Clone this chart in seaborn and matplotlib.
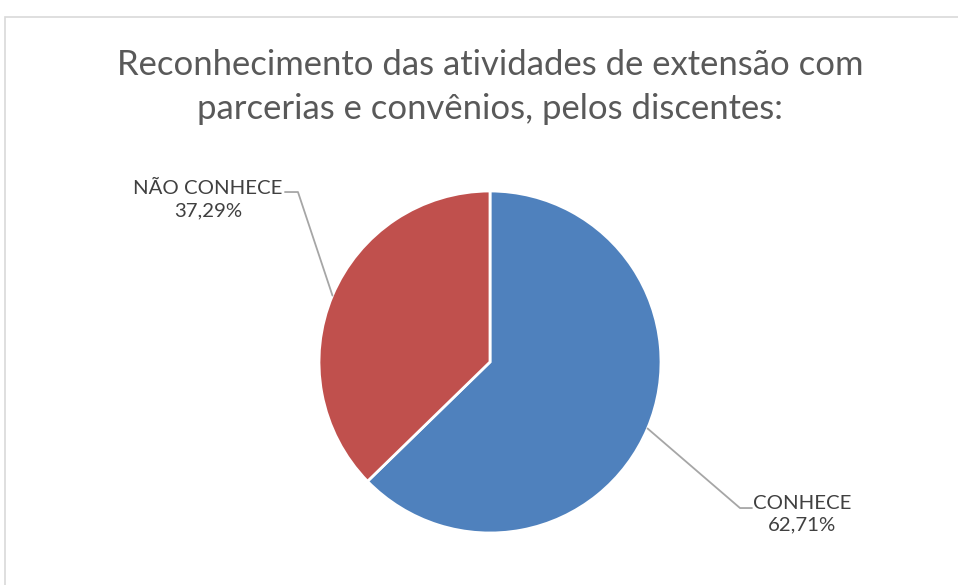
import numpy as np
import matplotlib
matplotlib.use("Agg")
import matplotlib.pyplot as plt
import seaborn as sns
from matplotlib.patches import Rectangle

# ==========================
# Dados
# ==========================
categorias = ["CONHECE", "NÃO CONHECE"]
percentuais = [62.71, 37.29]
rotulos_pct = ["62,71%", "37,29%"]
cores = ["#4F81BD", "#C0504D"]
titulo = "Reconhecimento das atividades de extensão com\nparcerias e convênios, pelos discentes:"

sns.set_theme(style="white")
plt.rcParams["font.family"] = ["Lato", "DejaVu Sans"]

W, H = 958, 585
fig = plt.figure(figsize=(W / 100, H / 100), dpi=100)

# moldura do gráfico
fig.patches.append(Rectangle((5 / W, -0.1), 1.2, (H - 17) / H + 0.1,
                             transform=fig.transFigure, fill=False,
                             edgecolor="#d9d9d9", linewidth=1.2))

# eixo posicionado sobre a área da pizza (centro 490,362 raio 171 px)
cx, cy, r = 490, 362, 171
ax = fig.add_axes([(cx - r) / W, (H - cy - r) / H, 2 * r / W, 2 * r / H])
wedges, _ = ax.pie(percentuais, colors=cores, startangle=90, counterclock=False,
                   wedgeprops=dict(edgecolor="white", linewidth=2))
ax.set_xlim(-1, 1)
ax.set_ylim(-1, 1)
ax.set_aspect("equal")
ax.axis("off")

# rótulos com linhas de chamada
cfg = {
    "CONHECE": dict(elbow=(1.462, -0.854), end=(1.532, -0.854), txt=(1.825, -0.89)),
    "NÃO CONHECE": dict(elbow=(-1.123, 0.994), end=(-1.199, 0.994), txt=(-1.65, 0.95)),
}
for w, cat, pct in zip(wedges, categorias, rotulos_pct):
    ang = np.deg2rad((w.theta1 + w.theta2) / 2)
    p0 = (np.cos(ang), np.sin(ang))
    c = cfg[cat]
    ax.plot([p0[0], c["elbow"][0], c["end"][0]], [p0[1], c["elbow"][1], c["end"][1]],
            color="#a6a6a6", linewidth=1.3, clip_on=False)
    ax.text(c["txt"][0], c["txt"][1], f"{cat}\n{pct}", ha="center", va="center",
            fontsize=14.7, color="#404040", linespacing=1.33)

fig.text(490 / W, 1 - 87 / H, titulo, ha="center", va="center",
         fontsize=24.9, color="#595959", linespacing=1.45)

fig.savefig("out.png", dpi=100, facecolor="white")
